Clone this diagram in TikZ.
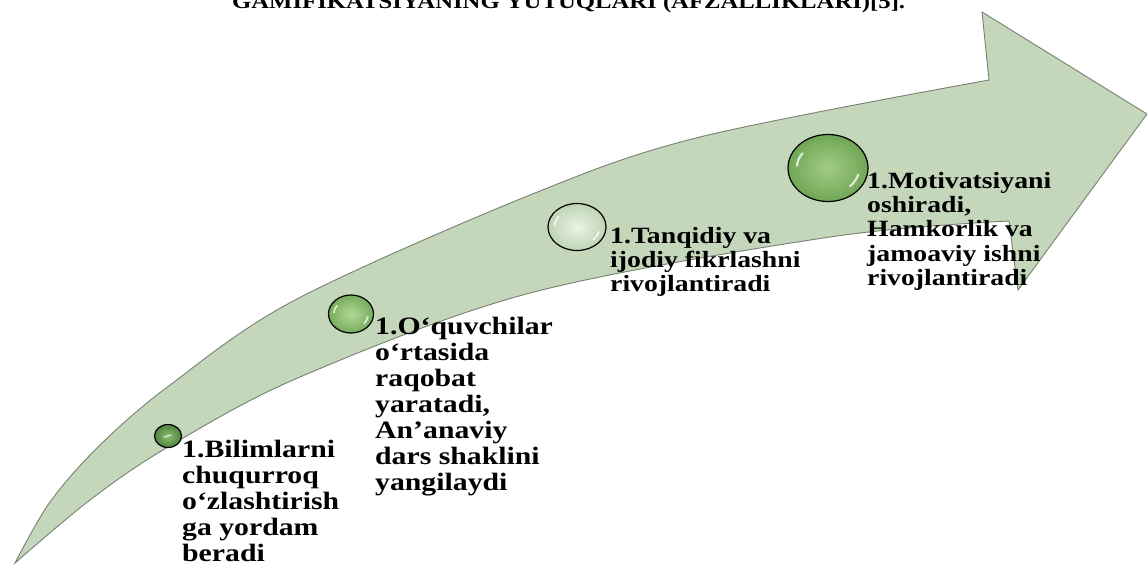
\documentclass[tikz,border=0pt]{standalone}
\usepackage{fontspec}
\usepackage{graphicx}
\newfontfamily\tnr{Liberation Serif}[FakeStretch=1.19]
\usetikzlibrary{shapes.geometric,calc}
\definecolor{arrowfill}{RGB}{196,215,186}
\definecolor{arrowline}{RGB}{120,128,116}
\definecolor{bAin}{RGB}{140,190,115}
\definecolor{bAout}{RGB}{80,130,60}
\definecolor{bBin}{RGB}{178,216,152}
\definecolor{bBout}{RGB}{118,172,92}
\definecolor{bCin}{RGB}{236,243,231}
\definecolor{bCout}{RGB}{190,212,180}
\definecolor{bDin}{RGB}{162,205,132}
\definecolor{bDout}{RGB}{112,166,86}
\newcommand\glintarc[6]{%
  \draw[glint=#6] ($(#1.center)+({0.78*#2*cos(#4)},{0.78*#3*sin(#4)})$)
    arc[start angle=#4, end angle=#5, x radius={0.78*#2}, y radius={0.78*#3}];}
\begin{document}
\begin{tikzpicture}[x=1pt,y=-1pt,
  arrowshape/.style={fill=arrowfill, draw=arrowline, line width=0.9pt, line join=miter},
  bubble/.style={ellipse, draw=black, line width=1.2pt, inner sep=0pt, shade},
  glint/.style={draw=white, line width=#1, line cap=round, opacity=0.75},
  glint/.default=2pt,
  bigtxt/.style={anchor=base west, inner sep=0pt, font=\tnr\bfseries\fontsize{25}{26}\selectfont},
  smalltxt/.style={anchor=base west, inner sep=0pt, font=\tnr\bfseries\fontsize{23.3}{24.4}\selectfont},
  titletxt/.style={anchor=base west, inner sep=0pt, font=\tnr\bfseries\fontsize{21}{23}\selectfont}
]
\fill[white] (0,0) rectangle (1147,565);
\useasboundingbox (0,0) rectangle (1147,565);

% title (cut off at the top)
\node[titletxt] (title) at (232,8) {\resizebox{673pt}{!}{GAMIFIKATSIYANING YUTUQLARI (AFZALLIKLARI)[5].}};

% curved arrow
\path[arrowshape]
  plot[smooth, tension=0.55] coordinates {(15,563) (50,502) (100,445) (170,385) (295,300) (530,195) (700,137) (989,80)}
  -- (982,12) -- (1147,114) -- (1018,290) -- (1009,221)
  -- plot[smooth, tension=0.55] coordinates {(1009,221) (830,237) (530,293) (300,377) (168,447) (90,500) (15,563)}
  -- cycle;

% bubbles
\node[bubble, minimum width=27pt, minimum height=23pt, inner color=bAin, outer color=bAout] (b1) at (168,436) {};
\node[bubble, minimum width=45pt, minimum height=38pt, inner color=bBin, outer color=bBout] (b2) at (351,314) {};
\node[bubble, minimum width=58pt, minimum height=47pt, inner color=bCin, outer color=bCout] (b3) at (577,227) {};
\node[bubble, minimum width=80pt, minimum height=67pt, inner color=bDin, outer color=bDout] (b4) at (828,168) {};

% highlights
\draw[glint=1.2pt] ($(b1.center)+(-4,1)$) -- ($(b1.center)+(3,-1)$);
\glintarc{b2}{22}{19}{185}{215}{1.6pt}
\glintarc{b2}{22}{19}{10}{40}{1.6pt}
\glintarc{b3}{29}{23.5}{185}{215}{1.8pt}
\glintarc{b3}{29}{23.5}{15}{45}{1.8pt}
\glintarc{b4}{40}{33}{185}{215}{2.2pt}
\glintarc{b4}{40}{33}{15}{45}{2.2pt}

% texts
\node[bigtxt] (t1) at (182,457) {\begin{tabular}[t]{@{}l@{}}1.Bilimlarni\\chuqurroq\\o‘zlashtirish\\ga yordam\\beradi\end{tabular}};
\node[bigtxt] (t2) at (375,334) {\begin{tabular}[t]{@{}l@{}}1.O‘quvchilar\\o‘rtasida\\raqobat\\yaratadi,\\An’anaviy\\dars shaklini\\yangilaydi\end{tabular}};
\node[smalltxt] (t3) at (610,243) {\begin{tabular}[t]{@{}l@{}}1.Tanqidiy va\\ijodiy fikrlashni\\rivojlantiradi\end{tabular}};
\node[smalltxt] (t4) at (867,188) {\begin{tabular}[t]{@{}l@{}}1.Motivatsiyani\\oshiradi,\\Hamkorlik va\\jamoaviy ishni\\rivojlantiradi\end{tabular}};
\end{tikzpicture}
\end{document}
